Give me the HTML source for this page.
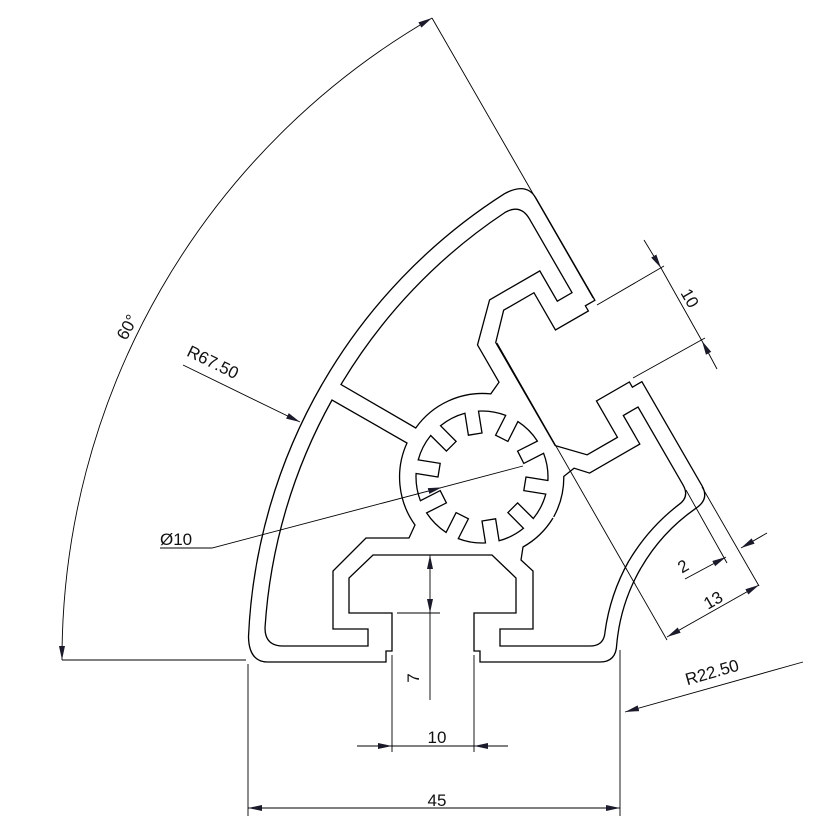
<!DOCTYPE html>
<html><head><meta charset="utf-8"><style>
html,body{margin:0;padding:0;background:#fff;}
svg{display:block;}
text{font-family:"Liberation Sans",sans-serif;font-size:17px;fill:#111;}
</style></head><body>
<svg width="819" height="835" viewBox="0 0 819 835" xmlns="http://www.w3.org/2000/svg">
<defs>
<marker id="a" markerWidth="14" markerHeight="8" refX="14" refY="4" orient="auto-start-reverse" markerUnits="userSpaceOnUse">
<path d="M0,1 L14,4 L0,7 z" fill="#1a1a2a"/>
</marker>
<g id="half" fill="none" stroke="#000" stroke-width="1.3">
<!-- outer contour half -->
<path d="M322.2,384 A554,554 0 0,0 248.5,636.8 Q249,662 268,662 L386,662 L386,651 L392,651 L392,613 L349,613 L349,578 L373,555 L492,555 L516,578 L516,613 L474,613 L474,651 L480,651 L480,662 L600,662 Q616,662 616.7,644.8 A186,186 0 0,1 640.9,568"/>
<!-- cavity A -->
<path d="M368,629 L368,646 L283,646 Q265,646 265,628 A538,538 0 0,1 332,400 L407,443 A82,82 0 0,0 415,525 L409,538 L366,538 L333,571 L333,629 Z"/>
<!-- cavity C half -->
<path d="M553,518 A82,82 0 0,1 523,547 L521,560 L533,571 L533,629 L500,629 L500,646 L590,646 Q604,646 605,632 A200,200 0 0,1 628.8,561"/>
</g>
</defs>
<use href="#half"/>
<use href="#half" transform="matrix(0.5,0.866,0.866,-0.5,-171.4,297)"/>
<!-- gear bore -->
<path fill="none" stroke="#000" stroke-width="1.3" d="M464.9,413.2 L468.4,435.2 L482,433 L478.5,411.1 A66,66 0 0,1 505.7,415.4 L495.6,435.2 L507.9,441.4 L517.9,421.6 A66,66 0 0,1 537.4,441.1 L517.6,451.1 L523.8,463.4 L543.6,453.3 A66,66 0 0,1 547.9,480.5 L526,477 L523.8,490.6 L545.8,494.1 A66,66 0 0,1 533.3,518.5 L517.6,502.9 L507.9,512.6 L523.5,528.3 A66,66 0 0,1 499.1,540.8 L495.6,518.8 L482,521 L485.5,542.9 A66,66 0 0,1 458.3,538.6 L468.4,518.8 L456.1,512.6 L446.1,532.4 A66,66 0 0,1 426.6,512.9 L446.4,502.9 L440.2,490.6 L420.4,500.7 A66,66 0 0,1 416.1,473.5 L438,477 L440.2,463.4 L418.2,459.9 A66,66 0 0,1 430.7,435.5 L446.4,451.1 L456.1,441.4 L440.5,425.7 A66,66 0 0,1 464.9,413.2 Z"/>

<g fill="none" stroke="#000" stroke-width="0.9">
<!-- 60 deg -->
<path d="M62,660 A740,740 0 0,1 432,18" marker-start="url(#a)" marker-end="url(#a)"/>
<line x1="62" y1="660" x2="246" y2="660"/>
<line x1="432" y1="18" x2="593" y2="298"/>
<!-- extension lines -->
<line x1="248" y1="664" x2="248" y2="816"/>
<line x1="620" y1="650" x2="620" y2="816"/>
<line x1="392" y1="655" x2="392" y2="752"/>
<line x1="474" y1="655" x2="474" y2="752"/>
<!-- 45 -->
<line x1="248" y1="808" x2="620" y2="808" marker-start="url(#a)" marker-end="url(#a)"/>
<!-- 10 bottom -->
<line x1="357" y1="746" x2="392" y2="746" marker-end="url(#a)"/>
<line x1="508" y1="746" x2="474" y2="746" marker-end="url(#a)"/>
<line x1="392" y1="746" x2="474" y2="746"/>
<!-- 7 -->
<line x1="430" y1="613" x2="430" y2="555" marker-start="url(#a)" marker-end="url(#a)"/>
<line x1="430" y1="613" x2="430" y2="700"/>
<line x1="397" y1="613" x2="440" y2="613"/>
<!-- side 10 -->
<line x1="597" y1="305" x2="664" y2="266"/>
<line x1="633" y1="378" x2="705" y2="338"/>
<line x1="644" y1="240" x2="661" y2="268" marker-end="url(#a)"/>
<line x1="717" y1="369" x2="702" y2="341" marker-end="url(#a)"/>
<line x1="661" y1="268" x2="702" y2="341"/>
<!-- lower right ext lines -->
<line x1="497" y1="343" x2="667" y2="640"/>
<line x1="702" y1="487" x2="759" y2="586"/>
<line x1="686" y1="490" x2="727" y2="563"/>
<!-- 13 -->
<line x1="667" y1="637" x2="759" y2="585" marker-start="url(#a)" marker-end="url(#a)"/>
<!-- 2 -->
<line x1="685" y1="579" x2="726" y2="557" marker-end="url(#a)"/>
<line x1="767" y1="533" x2="741" y2="548" marker-end="url(#a)"/>
<!-- R22.50 -->
<line x1="803" y1="662" x2="625" y2="712" marker-end="url(#a)"/>
<!-- R67.50 -->
<line x1="183" y1="365" x2="300" y2="422" marker-end="url(#a)"/>
<!-- dia 10 -->
<path d="M160,548 L212,548 L442,487.4" marker-end="url(#a)"/>
<line x1="442" y1="487.4" x2="523" y2="466"/>
</g>

<text transform="translate(127,327) rotate(-62)" text-anchor="middle" dy="6">60°</text>
<text transform="translate(213,362) rotate(26)" text-anchor="middle" dy="6">R67.50</text>
<text x="160" y="545">Ø10</text>
<text x="437" y="743" text-anchor="middle">10</text>
<text x="437" y="806" text-anchor="middle">45</text>
<text transform="translate(413,678) rotate(-90)" text-anchor="middle" dy="6">7</text>
<text transform="translate(690,298) rotate(60)" text-anchor="middle" dy="6">10</text>
<text transform="translate(713,600) rotate(-30)" text-anchor="middle" dy="6">13</text>
<text transform="translate(683,566) rotate(-30)" text-anchor="middle" dy="6">2</text>
<text transform="translate(712,672) rotate(-16)" text-anchor="middle" dy="6">R22.50</text>
</svg>
</body></html>
